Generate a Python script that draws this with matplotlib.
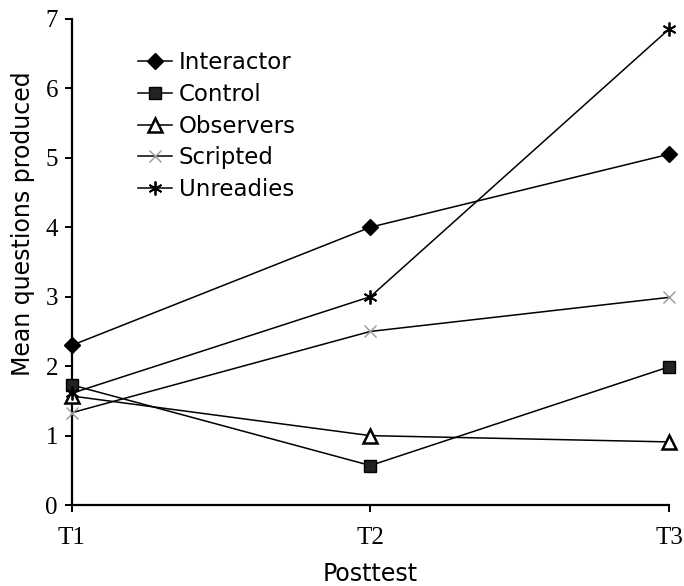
import matplotlib
matplotlib.use('Agg')
import matplotlib.pyplot as plt

posttests = ['T1', 'T2', 'T3']
interactor = [2.30, 4.00, 5.05]
control = [1.73, 0.57, 1.99]
observers = [1.57, 1.00, 0.91]
scripted = [1.33, 2.50, 2.99]
unreadies = [1.61, 3.00, 6.85]

fig = plt.figure(figsize=(6.84, 5.86), dpi=100, facecolor='white')
ax = fig.add_axes([0.105, 0.138, 0.873, 0.830])

x = range(len(posttests))
ax.plot(x, interactor, '-', color='black', lw=1.1, marker='D', ms=8,
        mfc='black', mec='black', label='Interactor', clip_on=False, zorder=5)
ax.plot(x, control, '-', color='black', lw=1.1, marker='s', ms=9,
        mfc='#222222', mec='black', label='Control', clip_on=False, zorder=5)
ax.plot(x, observers, '-', color='black', lw=1.1, marker='^', ms=10,
        mfc='white', mec='black', mew=1.8, label='Observers', clip_on=False, zorder=5)
ax.plot(x, scripted, '-', color='black', lw=1.1, marker='x', ms=9,
        mec='#999999', mew=1.0, label='Scripted', clip_on=False, zorder=5)
ax.plot(x, unreadies, '-', color='black', lw=1.1, marker=(6, 2, 0), ms=10,
        mec='black', mew=1.3, label='Unreadies', clip_on=False, zorder=5)

ax.set_xlim(0, 2)
ax.set_ylim(0, 7)
ax.set_xticks(list(x))
ax.set_xticklabels(posttests)
ax.set_yticks(range(0, 8))

for s in ['top', 'right']:
    ax.spines[s].set_visible(False)
for s in ['left', 'bottom']:
    ax.spines[s].set_linewidth(1.6)

ax.tick_params(axis='both', direction='out', length=5, width=1.4, labelsize=18, pad=5)
ax.tick_params(axis='x', pad=11)
for lab in ax.get_xticklabels() + ax.get_yticklabels():
    lab.set_family('Liberation Serif')

ax.set_xlabel('Posttest', fontsize=17, labelpad=9)
ax.set_ylabel('Mean questions produced', fontsize=17)
ax.yaxis.set_label_coords(-0.062, 0.578)

ax.legend(loc='upper left', bbox_to_anchor=(0.095, 0.952), frameon=False,
          fontsize=16.5, handlelength=1.5, handletextpad=0.3, labelspacing=0.38,
          borderaxespad=0)

fig.savefig('out.png', dpi=100, facecolor='white')
